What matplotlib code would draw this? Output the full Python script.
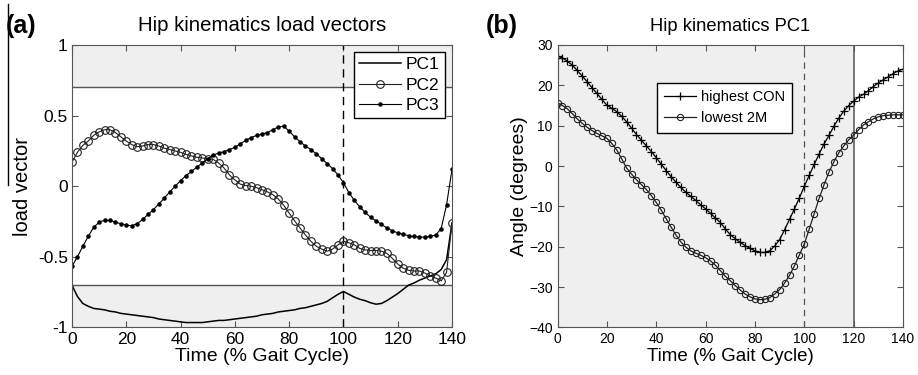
import matplotlib
matplotlib.use('Agg')
import matplotlib.pyplot as plt
import numpy as np

plt.rcParams['font.family'] = ['Liberation Sans', 'DejaVu Sans']

# gait cycle positions (% gait cycle), every 2 %
t = np.arange(0, 141, 2)

# (a) load vectors
pc1 = [-0.70, -0.78, -0.83, -0.85, -0.865, -0.87, -0.875, -0.885, -0.89, -0.90,
       -0.905, -0.91, -0.915, -0.92, -0.925, -0.93, -0.94, -0.945, -0.95, -0.955,
       -0.96, -0.965, -0.965, -0.965, -0.965, -0.96, -0.955, -0.95, -0.95, -0.945,
       -0.94, -0.935, -0.93, -0.925, -0.92, -0.91, -0.905, -0.90, -0.89, -0.885,
       -0.88, -0.875, -0.865, -0.86, -0.85, -0.84, -0.83, -0.815, -0.79, -0.765,
       -0.745, -0.765, -0.785, -0.80, -0.81, -0.825, -0.835, -0.83, -0.81, -0.785,
       -0.76, -0.73, -0.70, -0.685, -0.665, -0.65, -0.635, -0.62, -0.59, -0.52,
       -0.26]
pc2 = [0.17, 0.24, 0.29, 0.32, 0.36, 0.385, 0.40, 0.40, 0.38, 0.35,
       0.32, 0.295, 0.28, 0.285, 0.295, 0.295, 0.285, 0.27, 0.26, 0.25,
       0.24, 0.225, 0.215, 0.205, 0.20, 0.195, 0.19, 0.165, 0.13, 0.08,
       0.045, 0.015, 0.005, 0.0, -0.01, -0.025, -0.04, -0.06, -0.09, -0.135,
       -0.19, -0.245, -0.295, -0.345, -0.39, -0.425, -0.445, -0.46, -0.445, -0.415,
       -0.39, -0.40, -0.415, -0.44, -0.45, -0.455, -0.455, -0.46, -0.475, -0.51,
       -0.55, -0.58, -0.595, -0.60, -0.60, -0.615, -0.635, -0.65, -0.67, -0.61,
       -0.26]
pc3 = [-0.567, -0.50, -0.425, -0.355, -0.29, -0.255, -0.24, -0.24, -0.255, -0.265,
       -0.275, -0.28, -0.265, -0.235, -0.20, -0.165, -0.125, -0.085, -0.04, 0.0,
       0.04, 0.075, 0.105, 0.135, 0.165, 0.195, 0.22, 0.235, 0.245, 0.26,
       0.275, 0.30, 0.325, 0.345, 0.36, 0.37, 0.38, 0.40, 0.42, 0.425,
       0.39, 0.35, 0.315, 0.285, 0.26, 0.23, 0.195, 0.16, 0.125, 0.08,
       0.025, -0.045, -0.10, -0.145, -0.185, -0.22, -0.245, -0.27, -0.295, -0.315,
       -0.33, -0.34, -0.35, -0.355, -0.36, -0.36, -0.355, -0.345, -0.30, -0.13,
       0.12]

# (b) PC1 hip angle (degrees)
con_high = [27.3, 26.8, 26.0, 25.0, 23.7, 22.3, 20.9, 19.4, 18.0, 16.5,
            15.1, 14.3, 13.5, 12.3, 11.0, 9.4, 7.8, 6.4, 5.0, 3.6,
            2.1, 0.5, -1.1, -2.6, -4.0, -5.3, -6.5, -7.5, -8.5, -9.6,
            -10.6, -11.7, -12.9, -14.0, -15.6, -17.0, -18.0, -18.9, -19.7, -20.4,
            -21.0, -21.4, -21.4, -21.0, -19.8, -18.2, -15.8, -13.2, -10.6, -7.9,
            -5.0, -2.3, 0.4, 3.0, 5.5, 7.6, 9.9, 11.9, 13.6, 15.0,
            16.1, 17.1, 17.8, 18.7, 19.7, 20.6, 21.4, 22.1, 22.9, 23.6,
            24.0]
low_2m = [15.7, 15.0, 14.2, 13.0, 11.7, 10.6, 9.6, 8.8, 8.1, 7.5,
          6.9, 5.6, 4.0, 1.8, -0.5, -2.0, -3.4, -4.6, -5.8, -7.3,
          -9.0, -10.9, -13.0, -15.1, -17.1, -18.8, -20.1, -21.0, -21.6, -22.1,
          -22.7, -23.5, -24.6, -25.9, -27.3, -28.4, -29.6, -30.7, -31.7, -32.4,
          -32.9, -33.1, -33.0, -32.6, -31.7, -30.6, -29.0, -27.1, -24.7, -22.0,
          -19.3, -15.6, -11.8, -8.0, -4.6, -1.5, 1.1, 3.3, 5.0, 6.5,
          7.7, 9.0, 10.2, 11.0, 11.7, 12.2, 12.5, 12.6, 12.7, 12.7,
          12.7]

shade = '#efefef'
edge = '#555555'

fig = plt.figure(figsize=(9.18, 3.75), dpi=100)
ax1 = fig.add_axes([0.0784, 0.1267, 0.414, 0.7533])
ax2 = fig.add_axes([0.6073, 0.1267, 0.3764, 0.7533])

#%% (a)
ax1.axhspan(0.7, 1, color=shade, lw=0)
ax1.axhspan(-1, -0.7, color=shade, lw=0)
ax1.axhline(0.7, color=edge, lw=1)
ax1.axhline(-0.7, color=edge, lw=1)
ax1.axvline(100, color='k', lw=1, ls=(0, (6, 4)))
ax1.plot(t, pc1, 'k-', lw=1.1, label='PC1')
ax1.plot(t, pc2, color='#222222', lw=0.8, marker='o', ms=5.5, mfc='none', mew=0.8, label='PC2')
ax1.plot(t, pc3, 'k-', lw=0.8, marker='.', ms=4.5, label='PC3')
ax1.set_xlim(0, 140)
ax1.set_ylim(-1, 1)
ax1.set_xticks(np.arange(0, 141, 20))
ax1.set_yticks([-1, -0.5, 0, 0.5, 1])
ax1.set_yticklabels(['-1', '-0.5', '0', '0.5', '1'])
ax1.set_title('Hip kinematics load vectors', fontsize=14.7, pad=10)
ax1.set_xlabel('Time (% Gait Cycle)', fontsize=14, labelpad=1)
ax1.set_ylabel('load vector', fontsize=14.5)
ax1.yaxis.set_label_coords(-0.106, 0.5)
ax1.tick_params(labelsize=12.5, direction='in', top=True, right=True, length=4, color=edge, pad=3)
ax1.legend(loc='upper right', fontsize=12.5, frameon=True, fancybox=False, numpoints=1,
           edgecolor='k', framealpha=1, handlelength=2.4, borderpad=0.3,
           labelspacing=0.3, handletextpad=0.3, borderaxespad=0.4)

#%% (b)
ax2.axvspan(0, 120, color=shade, lw=0)
ax2.axvline(120, color=edge, lw=1.1)
ax2.axvline(100, color=edge, lw=0.9, ls=(0, (5, 4)))
ax2.plot(t, con_high, 'k-', lw=0.9, marker='+', ms=6, mew=0.9, label='highest CON')
ax2.plot(t, low_2m, color='#222222', lw=0.9, marker='o', ms=4.5, mfc='none', mew=0.8, label='lowest 2M')
ax2.set_xlim(0, 140)
ax2.set_ylim(-40, 30)
ax2.set_xticks(np.arange(0, 141, 20))
ax2.set_yticks(np.arange(-40, 31, 10))
ax2.set_title('Hip kinematics PC1', fontsize=13.2, pad=10)
ax2.set_xlabel('Time (% Gait Cycle)', fontsize=13.5, labelpad=1)
ax2.set_ylabel('Angle (degrees)', fontsize=14)
ax2.yaxis.set_label_coords(-0.085, 0.5)
ax2.tick_params(labelsize=10, direction='in', top=True, right=True, length=4, color=edge)
ax2.legend(loc='upper left', bbox_to_anchor=(0.288, 0.866), fontsize=10.5, frameon=True,
           fancybox=False, edgecolor='k', framealpha=1, handlelength=2.2, numpoints=1,
           borderpad=0.5, labelspacing=0.5, handletextpad=0.3, borderaxespad=0)

for ax in (ax1, ax2):
    for s in ax.spines.values():
        s.set_color(edge)

fig.text(0.006, 0.912, '(a)', fontsize=18, fontweight='bold')
fig.text(0.529, 0.912, '(b)', fontsize=18, fontweight='bold')
fig.add_artist(plt.Line2D([0.009, 0.009], [0.507, 0.989], color='k', lw=1))

plt.savefig('out.png', dpi=100)
